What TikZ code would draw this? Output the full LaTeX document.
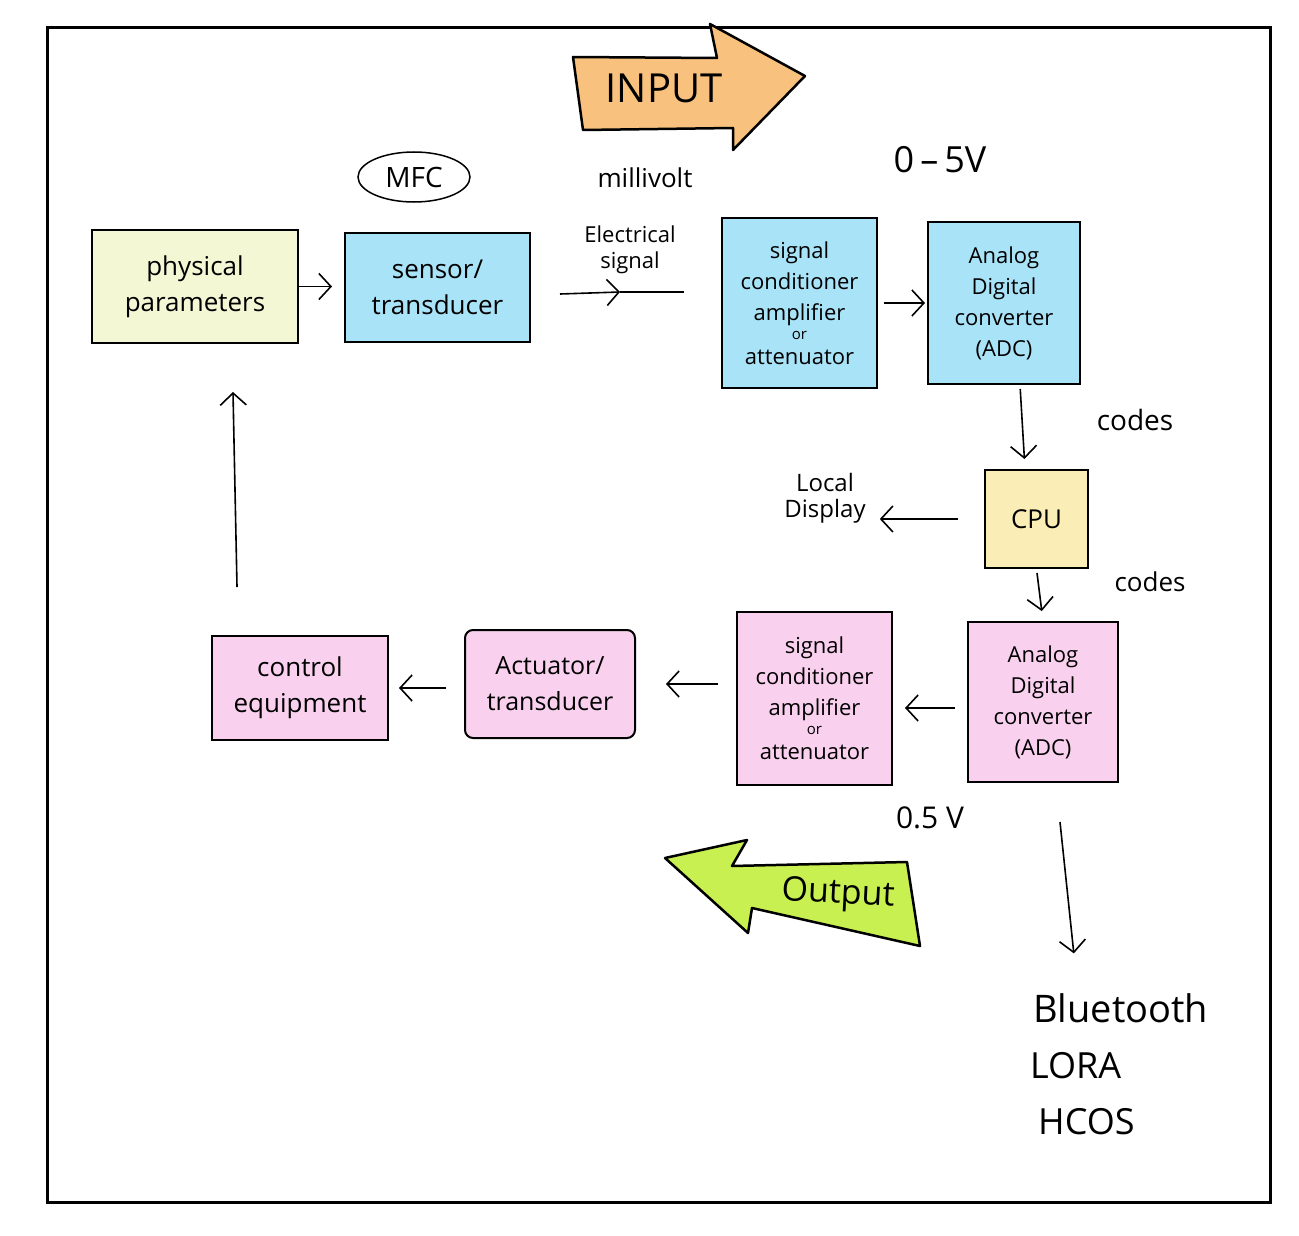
\documentclass[tikz,border=0pt]{standalone}
\usepackage{fontspec}
\setmainfont{Open Sans}
\usetikzlibrary{arrows.meta,shapes.geometric}
\definecolor{physc}{HTML}{F3F7D4}
\definecolor{bluec}{HTML}{A9E3F7}
\definecolor{cpuc}{HTML}{FBEDB6}
\definecolor{pinkc}{HTML}{F9D1EE}
\definecolor{orangec}{HTML}{F8C27E}
\definecolor{greenc}{HTML}{C8F050}
\tikzset{
  box/.style={draw=black,line width=2pt,align=center,inner sep=0pt,anchor=center},
  fbig/.style={font=\fontsize{26}{36}\selectfont},
  fsmall/.style={font=\fontsize{22}{31}\selectfont},
  lbl/.style={inner sep=0pt,align=center},
  arr/.style={line width=1.6pt,-{Straight Barb[length=12pt,width=26pt,line width=1.6pt]}},
  bigarrow/.style={draw=black,line width=2.5pt,line join=round}
}
\begin{document}
\begin{tikzpicture}[x=1pt,y=-1pt]
\useasboundingbox[fill=white] (0,0) rectangle (1299,1236);
\draw[line width=3pt] (47,28) rectangle (1270,1202);

% input arrow
\draw[bigarrow,fill=orangec] (573,57) -- (717,58) -- (710,24) -- (805,76) -- (733,150) -- (733,128) -- (583,130) -- cycle;
\node[lbl,font=\fontsize{40}{40}\selectfont] (input) at (664,88) {INPUT};

% output arrow
\draw[bigarrow,fill=greenc] (665,858) -- (747,840) -- (732,866) -- (907,862) -- (920,946) -- (752,908) -- (748,933) -- cycle;
\node[lbl,font=\fontsize{34}{34}\selectfont,rotate=-3] (output) at (838,895) {Output};

% top labels
\node[draw,ellipse,line width=1.5pt,minimum width=112pt,minimum height=50pt,inner sep=0pt,font=\fontsize{28}{28}\selectfont] (mfc) at (414,177) {MFC};
\node[lbl,font=\fontsize{26}{26}\selectfont] (mv) at (645,178) {millivolt};
\node[lbl,font=\fontsize{36}{36}\selectfont] (v05) at (940,160) {0\,–\,5V};

% top row boxes
\node[box,fbig,fill=physc,minimum width=206pt,minimum height=113pt] (phys) at (195,286.5) {physical\\parameters};
\node[box,fbig,fill=bluec,minimum width=185pt,minimum height=109pt] (sensor) at (437.5,287.5) {sensor/\\transducer};
\node[box,fsmall,fill=bluec,minimum width=155pt,minimum height=170pt] (sc1) at (799.5,303) {signal\\conditioner\\amplifier\\[-12pt]{\fontsize{15}{15}\selectfont or}\\[-6pt]attenuator};
\node[box,fsmall,fill=bluec,minimum width=152pt,minimum height=162pt] (adc1) at (1004,303) {Analog\\Digital\\converter\\(ADC)};

\node[lbl,font=\fontsize{22}{26}\selectfont] (elec) at (630,250) {Electrical\\signal};
\coordinate (e1) at (560,294);
\coordinate (e2) at (620,292);
\coordinate (e3) at (684,292);

% middle
\node[box,font=\fontsize{26}{26}\selectfont,fill=cpuc,minimum width=103pt,minimum height=98pt] (cpu) at (1036.5,519) {CPU};
\node[lbl,font=\fontsize{24}{26}\selectfont] (disp) at (825,498) {Local\\Display};
\node[lbl,font=\fontsize{28}{28}\selectfont] (codes1) at (1135,420) {codes};
\node[lbl,font=\fontsize{26}{26}\selectfont] (codes2) at (1150,582) {codes};

% bottom row boxes
\node[box,fsmall,fill=pinkc,minimum width=150pt,minimum height=160pt] (adc2) at (1043,702) {Analog\\Digital\\converter\\(ADC)};
\node[box,fsmall,fill=pinkc,minimum width=155pt,minimum height=173pt] (sc2) at (814.5,698.5) {signal\\conditioner\\amplifier\\[-12pt]{\fontsize{15}{15}\selectfont or}\\[-6pt]attenuator};
\node[box,font=\fontsize{25}{36}\selectfont,fill=pinkc,minimum width=170pt,minimum height=108pt,rounded corners=8pt] (act) at (550,684) {Actuator/\\transducer};
\node[box,fbig,fill=pinkc,minimum width=176pt,minimum height=104pt] (ctrl) at (300,688) {control\\equipment};

\node[lbl,font=\fontsize{30}{30}\selectfont] (v5) at (930,818) {0.5 V};

% wireless
\node[lbl,anchor=west,font=\fontsize{38}{38}\selectfont] (bt) at (1033,1008) {Bluetooth};
\node[lbl,anchor=west,font=\fontsize{36}{36}\selectfont] (lora) at (1030,1066) {LORA};
\node[lbl,anchor=west,font=\fontsize{36}{36}\selectfont] (hcos) at (1038,1122) {HCOS};
\coordinate (b1) at (1060,822);

% connectors
\draw[arr,shorten >=12pt] (phys.east) -- (phys.east -| sensor.west);
\draw[arr] (e1) -- (e2);
\draw[line width=1.6pt] (e2) -- (e3);
\draw[arr,shorten <=6pt,shorten >=2pt] (sc1.east) -- (adc1.west);
\draw[arr,shorten <=4pt,shorten >=10pt] (adc1.south -| 1020,0) -- (cpu.north -| 1025,0);
\draw[arr,shorten <=26pt,shorten >=14pt] (cpu.west) -- (cpu.west -| disp.east);
\draw[arr,shorten <=4pt,shorten >=10pt] (cpu.south) -- (adc2.north);
\draw[arr,shorten <=12pt,shorten >=12pt] (adc2.west |- 0,708) -- (sc2.east |- 0,708);
\draw[arr,shorten <=18pt,shorten >=30pt] (sc2.west |- act.east) -- (act.east);
\draw[arr,shorten <=18pt,shorten >=10pt] (act.west |- ctrl.east) -- (ctrl.east);
\draw[arr,shorten <=48pt,shorten >=48pt] (ctrl.north -| 238,0) -- (phys.south -| 232,0);
\draw[arr,shorten >=40pt] (b1) -- (bt.north -| 1078,0);
\end{tikzpicture}
\end{document}
